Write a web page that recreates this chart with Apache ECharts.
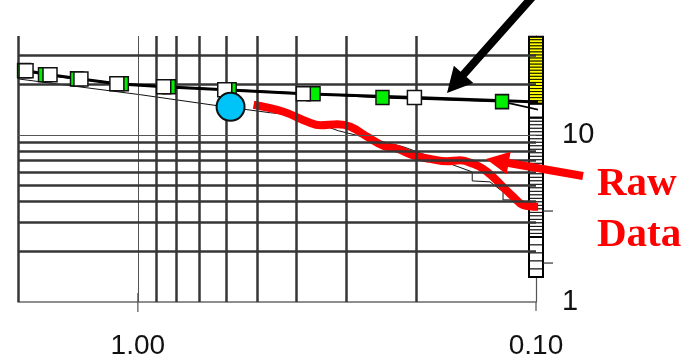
<!DOCTYPE html>
<html>
<head>
<meta charset="utf-8">
<script src="https://cdn.jsdelivr.net/npm/echarts@6/dist/echarts.min.js"></script>
<style>
  html, body { margin: 0; padding: 0; background: #fff; }
  #chart { width: 697px; height: 364px; }
</style>
</head>
<body>
<div id="chart"></div>
<script>
// ---- tick labels ----
const xTickValues = [1, 0.1];
const xTickTexts = ['1.00', '0.10'];
const yTickValues = [1, 10];
const yTickTexts = ['1', '10'];

// ---- grid lines (log decades) ----
const xGridHeavy = [2, 0.9, 0.8, 0.7, 0.6, 0.5, 0.4, 0.3, 0.2];
const xGridLight = [1];
const yGridHeavy = [2, 3, 4, 5, 6, 7, 8, 9, 20, 30];
const yGridLight = [10];

// ---- fitted trend (white squares) ----
const whiteX = [1.909, 1.662, 1.390, 1.129, 0.861, 0.605, 0.384, 0.202];
const whiteY = [24.2, 22.9, 21.6, 20.2, 19.4, 18.6, 17.6, 16.7];
const whiteEnd = [0.0906, 15.6];

// ---- second trend (green squares) ----
const greenX = [1.931, 1.711, 1.422, 1.097, 0.836, 0.588, 0.362, 0.243, 0.1217];
const greenY = [24.2, 22.9, 21.6, 20.2, 19.4, 18.6, 17.6, 16.7, 15.8];
const greenEnd = [0.0906, 13.5];

// ---- thin model curve ----
const modelX = [2.0, 0.983, 0.630, 0.464, 0.407, 0.3135, 0.2154, 0.1446, 0.1446, 0.1305, 0.1210, 0.1210, 0.1139, 0.1053];
const modelY = [21.6, 17.36, 14.92, 13.54, 13.18, 10.57, 8.48, 6.0, 5.30, 5.23, 4.56, 4.08, 4.08, 3.81];

// ---- raw data ----
const rawX = [0.512, 0.4306, 0.3749, 0.3478, 0.3152, 0.2925, 0.2652, 0.2417, 0.2230, 0.2033, 0.1844, 0.1671, 0.1551, 0.1438, 0.1358, 0.1282, 0.1210, 0.1139, 0.1078, 0.0988];
const rawY = [15.12, 13.73, 11.96, 11.40, 11.56, 11.17, 9.73, 8.59, 8.25, 7.54, 7.18, 6.94, 7.04, 6.71, 6.26, 5.60, 4.88, 4.25, 3.81, 3.71];

// ---- highlighted point ----
const pointX = [0.585];
const pointY = [14.7];

// ---- side column sections: [x, top, bottom, cells, colour index] ----
const columnX = [0.1, 0.1, 0.1, 0.1];
const columnTop = [38.6, 15.33, 12.64, 2.45];
const columnBottom = [15.33, 12.64, 2.45, 1.41];
const columnCells = [22, 1, 34, 5];
const columnColour = [0, 1, 1, 1];
const columnPalette = ['#ffff00', '#ffffff'];

const zip = (xs, ys) => xs.map((x, i) => [x, ys[i]]);

const chart = echarts.init(document.getElementById('chart'), null, { renderer: 'canvas' });

const heavyLine = { color: '#363636', width: 2.5, type: 'solid' };
const lightLine = { color: '#555', width: 1, type: 'solid' };

const gridMarks = []
  .concat(xGridHeavy.map(v => ({ xAxis: v, lineStyle: heavyLine })))
  .concat(xGridLight.map(v => ({ xAxis: v, lineStyle: lightLine })))
  .concat(yGridHeavy.map(v => ({ yAxis: v, lineStyle: heavyLine })))
  .concat(yGridLight.map(v => ({ yAxis: v, lineStyle: lightLine })));

function pickLabel(values, texts) {
  return function (v) {
    for (let i = 0; i < values.length; i++) {
      if (Math.abs(v - values[i]) < values[i] * 1e-6) return texts[i];
    }
    return '';
  };
}

const option = {
  animation: false,
  backgroundColor: '#fff',
  grid: { left: 18, right: 161, top: 36, bottom: 62 },
  xAxis: {
    type: 'log', logBase: 10, inverse: true, min: 0.1, max: 2,
    axisLine: { show: true, lineStyle: { color: '#6a6a6a', width: 1.5 } },
    axisTick: { show: false },
    splitLine: { show: false },
    axisLabel: {
      fontSize: 28, color: '#111', fontFamily: 'Liberation Sans, Arial, sans-serif',
      margin: 30, formatter: pickLabel(xTickValues, xTickTexts)
    }
  },
  yAxis: {
    type: 'log', logBase: 10, position: 'right', min: 1, max: 39,
    axisLine: { show: true, lineStyle: { color: '#555', width: 1.2 } },
    axisTick: { show: false },
    splitLine: { show: false },
    axisLabel: {
      fontSize: 29, color: '#111', fontFamily: 'Liberation Sans, Arial, sans-serif',
      margin: 26, formatter: pickLabel(yTickValues, yTickTexts)
    }
  },
  series: [
    {
      name: 'grid', type: 'line', data: [], z: 1, silent: true,
      markLine: { silent: true, symbol: ['none', 'none'], label: { show: false }, data: gridMarks }
    },
    {
      name: 'column', type: 'custom', z: 2, clip: false, silent: true,
      data: columnX.map((x, i) => [x, columnTop[i], columnBottom[i], columnCells[i], columnColour[i]]),
      renderItem: function (params, api) {
        const x = api.value(0), top = api.value(1), bot = api.value(2);
        const n = api.value(3), ci = api.value(4);
        const p1 = api.coord([x, top]);
        const p2 = api.coord([x, bot]);
        const w = 14, left = p1[0] - w / 2;
        const h = (p2[1] - p1[1]) / n;
        const children = [];
        for (let i = 0; i < n; i++) {
          children.push({
            type: 'rect',
            shape: { x: left, y: p1[1] + i * h, width: w, height: h },
            style: { fill: columnPalette[ci], stroke: '#000', lineWidth: 0.9 }
          });
        }
        children.push({
          type: 'rect',
          shape: { x: left, y: p1[1], width: w, height: p2[1] - p1[1] },
          style: { fill: 'none', stroke: '#000', lineWidth: 2 }
        });
        return { type: 'group', children: children };
      }
    },
    {
      name: 'model', type: 'line', z: 3, clip: false, symbol: 'none',
      data: zip(modelX, modelY),
      lineStyle: { color: '#111', width: 1 }
    },
    {
      name: 'Raw Data', type: 'line', z: 4, clip: false, symbol: 'none', smooth: 0.4,
      data: zip(rawX, rawY),
      lineStyle: { color: '#ff0000', width: 8 }
    },
    {
      name: 'trend B', type: 'line', z: 5, clip: false, symbol: 'none',
      data: zip(greenX, greenY).concat([greenEnd]),
      lineStyle: { color: '#000', width: 1.6 }
    },
    {
      name: 'trend A', type: 'line', z: 5, clip: false, symbol: 'none',
      data: zip(whiteX, whiteY).concat([whiteEnd]),
      lineStyle: { color: '#000', width: 3 }
    },
    {
      name: 'green', type: 'scatter', z: 6, clip: false, symbol: 'rect', symbolSize: [13, 14],
      data: zip(greenX, greenY),
      itemStyle: { color: '#00ee00', borderColor: '#111', borderWidth: 1.5, opacity: 1 }
    },
    {
      name: 'white', type: 'scatter', z: 7, clip: false, symbol: 'rect', symbolSize: [14, 14],
      data: zip(whiteX, whiteY),
      itemStyle: { color: '#ffffff', borderColor: '#111', borderWidth: 1.5, opacity: 1 }
    },
    {
      name: 'point', type: 'scatter', z: 8, clip: false, symbol: 'circle', symbolSize: 28,
      data: zip(pointX, pointY),
      itemStyle: { color: '#00c4f8', borderColor: '#111', borderWidth: 2, opacity: 1 }
    }
  ]
};

chart.setOption(option);

// ---- annotations: axis ticks, arrows, label ----
function arrowPoints(tail, tip, shaftW, headW, headL) {
  const dx = tip[0] - tail[0], dy = tip[1] - tail[1];
  const L = Math.hypot(dx, dy);
  const ux = dx / L, uy = dy / L, nx = -uy, ny = ux;
  const bx = tip[0] - ux * headL, by = tip[1] - uy * headL;
  return [
    [tail[0] + nx * shaftW / 2, tail[1] + ny * shaftW / 2],
    [bx + nx * shaftW / 2, by + ny * shaftW / 2],
    [bx + nx * headW / 2, by + ny * headW / 2],
    tip,
    [bx - nx * headW / 2, by - ny * headW / 2],
    [bx - nx * shaftW / 2, by - ny * shaftW / 2],
    [tail[0] - nx * shaftW / 2, tail[1] - ny * shaftW / 2]
  ];
}

const base = chart.convertToPixel({ xAxisIndex: 0, yAxisIndex: 0 }, [1, 1]);
const tick1 = chart.convertToPixel({ xAxisIndex: 0 }, 1);
const tick01 = chart.convertToPixel({ xAxisIndex: 0 }, 0.1);
const sideTicks = [3.5, 1.71].map(v => chart.convertToPixel({ yAxisIndex: 0 }, v));

const graphics = [
  { type: 'line', z: 20, shape: { x1: tick1, y1: base[1] - 9, x2: tick1, y2: base[1] + 10 },
    style: { stroke: '#555', lineWidth: 1.2 } },
  { type: 'line', z: 20, shape: { x1: tick01, y1: base[1], x2: tick01, y2: base[1] + 9 },
    style: { stroke: '#555', lineWidth: 1.2 } },
  { type: 'polygon', z: 30, shape: { points: arrowPoints([535, -6], [447, 93], 8, 26, 25) },
    style: { fill: '#000' } },
  { type: 'polygon', z: 30, shape: { points: arrowPoints([583, 176], [486, 159], 8, 23, 23) },
    style: { fill: '#ff0000' } },
  { type: 'text', z: 30, left: 597, top: 164,
    style: { text: 'Raw', fill: '#ff0000', font: 'bold 41px "Liberation Serif", "Times New Roman", serif' } },
  { type: 'text', z: 30, left: 597, top: 215,
    style: { text: 'Data', fill: '#ff0000', font: 'bold 41px "Liberation Serif", "Times New Roman", serif' } }
];
sideTicks.forEach(y => {
  graphics.push({ type: 'line', z: 20, shape: { x1: tick01 + 7, y1: y, x2: tick01 + 17, y2: y },
    style: { stroke: '#333', lineWidth: 1.2 } });
});

chart.setOption({ graphic: graphics });
</script>
</body>
</html>
